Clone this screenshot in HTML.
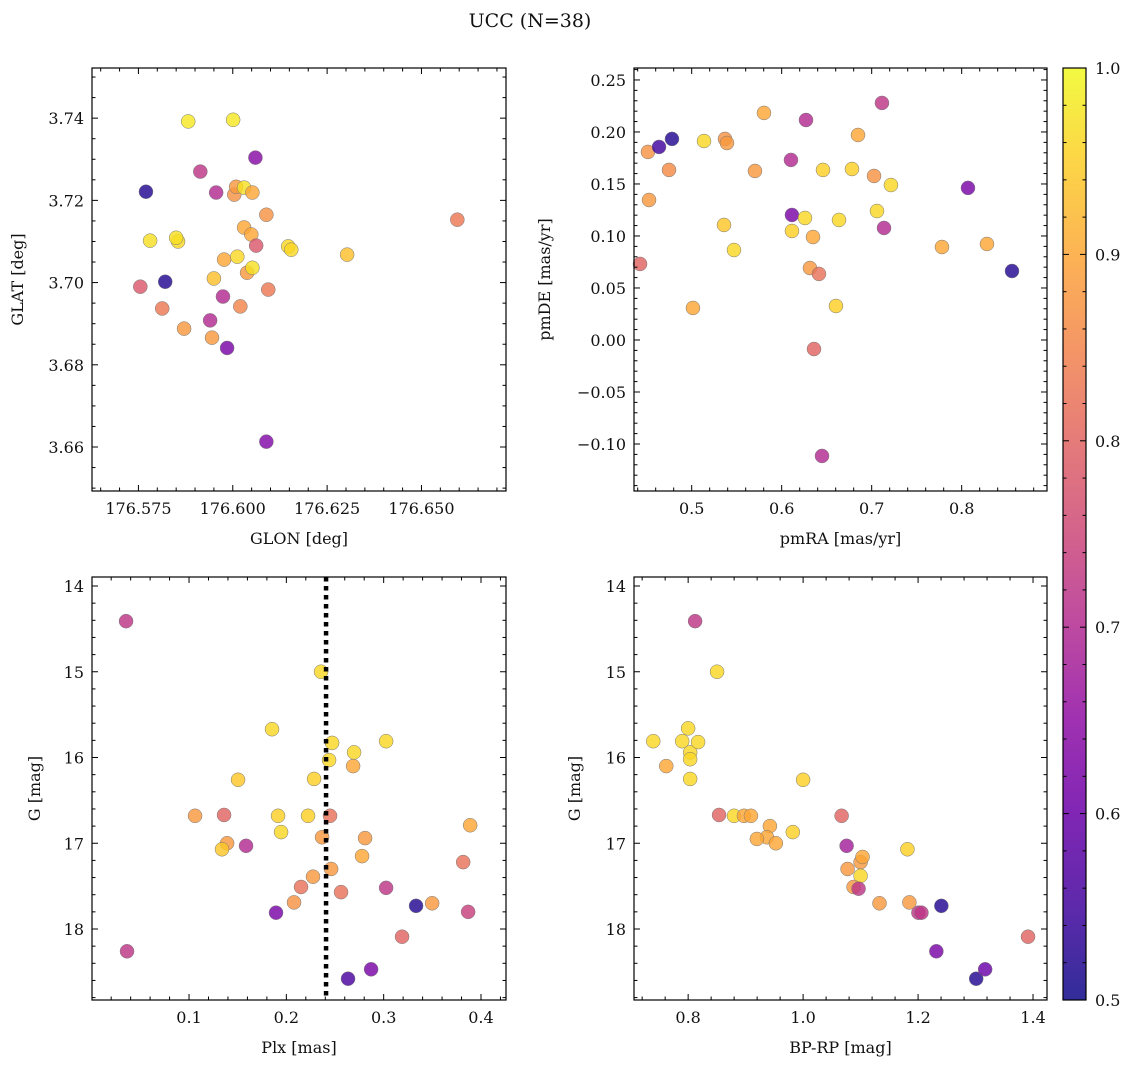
<!DOCTYPE html>
<html><head><meta charset="utf-8"><style>
body{margin:0;background:#fff}
svg text{font-family:"DejaVu Serif","Liberation Serif",serif;fill:#111}
</style></head><body>
<svg id="fig" width="1136" height="1068" xmlns="http://www.w3.org/2000/svg">
<defs><linearGradient id="cbg" x1="0" y1="1" x2="0" y2="0"></linearGradient></defs>
<text x="530" y="27" font-size="19" text-anchor="middle">UCC (N=38)</text>
</svg>
<script>
// Panel 1: GLON vs GLAT
const glon=[176.5770,176.5821,176.5755,176.5813,176.5855,176.5850,176.5781,176.5882,176.5914,176.5956,176.5871,176.5940,176.5945,176.5950,176.5977,176.5985,176.5974,176.6001,176.6004,176.6009,176.6012,176.6020,176.6030,176.6030,176.6038,176.6052,176.6049,176.6052,176.6060,176.6062,176.6089,176.6094,176.6147,176.6155,176.6089,176.6303,176.6595];
const glat=[3.7221,3.7002,3.699,3.6937,3.71,3.7109,3.7102,3.7392,3.727,3.7219,3.6888,3.6908,3.6866,3.701,3.7056,3.6841,3.6966,3.7396,3.7214,3.7233,3.7063,3.6942,3.7231,3.7134,3.7024,3.7219,3.7117,3.7036,3.7304,3.709,3.7165,3.6983,3.7088,3.708,3.6613,3.7068,3.7153];
const prob1=[0.52,0.52,0.78,0.83,0.96,0.97,0.97,0.98,0.72,0.7,0.88,0.7,0.88,0.93,0.9,0.62,0.7,0.98,0.87,0.88,0.96,0.85,0.97,0.9,0.88,0.9,0.9,0.97,0.64,0.78,0.87,0.83,0.96,0.96,0.63,0.93,0.83];
// Panel 2: pmRA vs pmDE
const pmra=[0.4426,0.4514,0.4526,0.4637,0.4781,0.4748,0.5014,0.5137,0.5370,0.5392,0.5359,0.5470,0.5703,0.5803,0.6103,0.6114,0.6114,0.6270,0.6259,0.6348,0.6314,0.6414,0.6359,0.6448,0.6459,0.6603,0.6637,0.6781,0.6848,0.7026,0.7059,0.7114,0.7137,0.7214,0.7781,0.8070,0.8281,0.8559];
const pmde=[0.0731,0.1808,0.1346,0.1856,0.1933,0.1635,0.0308,0.1913,0.1933,0.1894,0.1106,0.0865,0.1625,0.2183,0.1731,0.1202,0.1048,0.2115,0.1173,0.099,0.0692,0.0635,-0.0087,-0.1115,0.1635,0.0327,0.1154,0.1644,0.1971,0.1577,0.124,0.2279,0.1077,0.149,0.0894,0.1462,0.0923,0.0663];
const prob2=[0.8,0.87,0.88,0.55,0.52,0.86,0.9,0.96,0.87,0.88,0.94,0.96,0.88,0.9,0.7,0.62,0.95,0.7,0.96,0.9,0.88,0.82,0.8,0.7,0.95,0.95,0.96,0.95,0.9,0.87,0.96,0.72,0.7,0.96,0.9,0.62,0.9,0.52];
// Panel 3: Plx vs G
const plx=[0.0353,0.0363,0.1062,0.1360,0.1391,0.1339,0.1504,0.1586,0.1853,0.1915,0.1946,0.1894,0.2079,0.2151,0.2223,0.2274,0.2285,0.2357,0.2367,0.2439,0.2449,0.2460,0.2470,0.2562,0.2634,0.2686,0.2696,0.2778,0.2809,0.2871,0.3025,0.3025,0.3189,0.3333,0.3498,0.3817,0.3868,0.3889];
const gmag3=[14.41,18.26,16.68,16.67,17.0,17.07,16.26,17.03,15.67,16.68,16.87,17.81,17.69,17.51,16.68,17.39,16.25,15.0,16.93,16.03,16.68,17.3,15.83,17.57,18.58,16.1,15.94,17.15,16.94,18.47,15.81,17.52,18.09,17.73,17.7,17.22,17.8,16.79];
const prob3=[0.72,0.72,0.88,0.8,0.88,0.94,0.94,0.7,0.96,0.95,0.96,0.62,0.87,0.82,0.95,0.88,0.95,0.96,0.88,0.96,0.82,0.88,0.96,0.82,0.56,0.9,0.96,0.9,0.88,0.62,0.96,0.72,0.8,0.52,0.88,0.82,0.74,0.9];
const plxMedian=[0.2408];
// Panel 4: BP-RP vs G
const bprp=[0.8121,0.8503,0.7896,0.8,0.8035,0.8035,0.8173,0.7619,0.8035,0.7393,0.8538,0.8798,0.8971,0.9092,0.9422,0.937,0.9196,0.9526,0.9821,1.0,1.067,1.0757,1.0774,1.1,1.1,1.1034,1.0878,1.0965,1.1329,1.1815,1.1849,1.2006,1.2058,1.2405,1.2318,1.3011,1.3167,1.3913];
const gmag4=[14.41,15.0,15.81,15.66,15.94,16.02,15.82,16.1,16.25,15.81,16.67,16.68,16.68,16.68,16.8,16.93,16.95,17.0,16.87,16.26,16.68,17.03,17.3,17.22,17.38,17.16,17.51,17.53,17.7,17.07,17.69,17.81,17.81,17.73,18.26,18.58,18.47,18.09];
const prob4=[0.72,0.96,0.96,0.96,0.96,0.96,0.96,0.9,0.96,0.96,0.8,0.96,0.9,0.9,0.9,0.9,0.9,0.9,0.95,0.95,0.8,0.68,0.88,0.88,0.96,0.9,0.88,0.72,0.88,0.95,0.88,0.72,0.72,0.52,0.62,0.52,0.6,0.8];
const cbTicks=[0.5,0.6,0.7,0.8,0.9,1.0];

const NS="http://www.w3.org/2000/svg";
const svg=document.getElementById('fig');
function mk(tag,attrs,parent){const e=document.createElementNS(NS,tag);for(const k in attrs)e.setAttribute(k,attrs[k]);(parent||svg).appendChild(e);return e;}
const stops=['#0d0887','#41049d','#6a00a8','#8f0da4','#b12a90','#cc4778','#e16462','#f2844b','#fca636','#fcce25','#f0f921'];
function hex(h){return [1,3,5].map(i=>parseInt(h.substr(i,2),16));}
function plasma(v){let t=Math.max(0,Math.min(1,(v-0.5)/0.5))*10;const i=Math.min(9,Math.floor(t)),f=t-i;const a=hex(stops[i]),b=hex(stops[i+1]);return 'rgb('+a.map((c,k)=>Math.round(c+(b[k]-c)*f)).join(',')+')';}
const g=document.getElementById('cbg');
stops.forEach((s,i)=>mk('stop',{offset:(i*10)+'%','stop-color':s},g));

function fmt(v,d){let s=v.toFixed(d);if(v<-1e-9)s='\u2212'+s.slice(1);return s;}
function panel(o){
  const {x0,x1,y0,y1,xmin,xmax,ymin,ymax,inv}=o;
  const sx=v=>x0+(v-xmin)/(xmax-xmin)*(x1-x0);
  const sy=v=>inv? y0+(v-ymin)/(ymax-ymin)*(y1-y0) : y1-(v-ymin)/(ymax-ymin)*(y1-y0);
  const grp=mk('g',{});
  
  
  o.xs.forEach((xv,i)=>{
    const c=mk('circle',{cx:sx(xv),cy:sy(o.ys[i]),r:7,fill:plasma(o.cs[i]),'fill-opacity':0.82,stroke:'#777','stroke-width':0.5},grp);
    
    
  });
  if(o.vline!==undefined){
    const l=mk('line',{x1:sx(o.vline),x2:sx(o.vline),y1:y0,y2:y1,stroke:'#000','stroke-width':4.5,'stroke-dasharray':'4.5,4.5'},grp);
    
    
  }
  const eps=1e-9;
  for(let k=Math.ceil(xmin/o.xmin_-eps);k*o.xmin_<=xmax+eps;k++){const v=k*o.xmin_;const px=sx(v);
    if(px<x0+1||px>x1-1)continue;
    const major=Math.abs(v/o.xmaj-Math.round(v/o.xmaj))<1e-6;const L=major?6:3.5;
    mk('line',{x1:px,x2:px,y1:y1,y2:y1-L,stroke:'#000','stroke-width':1},grp);
    mk('line',{x1:px,x2:px,y1:y0,y2:y0+L,stroke:'#000','stroke-width':1},grp);
    if(major){const t=mk('text',{x:px,y:y1+23,'font-size':16,'text-anchor':'middle'},grp);t.textContent=fmt(v,o.xd);
      }
  }
  for(let k=Math.ceil(ymin/o.ymin_-eps);k*o.ymin_<=ymax+eps;k++){const v=k*o.ymin_;const py=sy(v);
    if(py<y0+1||py>y1-1)continue;
    const major=Math.abs(v/o.ymaj-Math.round(v/o.ymaj))<1e-6;const L=major?6:3.5;
    mk('line',{x1:x0,x2:x0+L,y1:py,y2:py,stroke:'#000','stroke-width':1},grp);
    mk('line',{x1:x1,x2:x1-L,y1:py,y2:py,stroke:'#000','stroke-width':1},grp);
    if(major){const t=mk('text',{x:x0-8,y:py+6,'font-size':16,'text-anchor':'end'},grp);t.textContent=fmt(v,o.yd);
      }
  }
  mk('rect',{x:x0,y:y0,width:x1-x0,height:y1-y0,fill:'none',stroke:'#000','stroke-width':1.2},grp);
  const xl=mk('text',{x:(x0+x1)/2,y:y1+53,'font-size':16,'text-anchor':'middle'},grp);xl.textContent=o.xlab;
  
  const ylx=o.ylx,yc=(y0+y1)/2;
  const yl=mk('text',{x:ylx,y:yc,'font-size':16,'text-anchor':'middle',transform:`rotate(-90 ${ylx} ${yc})`},grp);yl.textContent=o.ylab;
  
}
panel({name:'glon-glat-panel',x0:92,x1:506,y0:68,y1:491,xmin:176.5627,xmax:176.6724,ymin:3.6493,ymax:3.7522,xs:glon,ys:glat,cs:prob1,xmaj:0.025,xmin_:0.005,ymaj:0.02,ymin_:0.005,xd:3,yd:2,xlab:'GLON [deg]',ylab:'GLAT [deg]',ylx:23});
panel({name:'pm-panel',x0:634,x1:1047,y0:68,y1:491,xmin:0.4359,xmax:0.8948,ymin:-0.1452,ymax:0.2615,xs:pmra,ys:pmde,cs:prob2,xmaj:0.1,xmin_:0.02,ymaj:0.05,ymin_:0.01,xd:1,yd:2,xlab:'pmRA [mas/yr]',ylab:'pmDE [mas/yr]',ylx:550});
panel({name:'plx-g-panel',x0:92,x1:506,y0:577,y1:1000,xmin:0.0003,xmax:0.4257,ymin:13.895,ymax:18.828,inv:true,xs:plx,ys:gmag3,cs:prob3,xmaj:0.1,xmin_:0.02,ymaj:1,ymin_:0.2,xd:1,yd:0,xlab:'Plx [mas]',ylab:'G [mag]',ylx:40,vline:plxMedian[0]});
panel({name:'cmd-panel',x0:634,x1:1047,y0:577,y1:1000,xmin:0.7058,xmax:1.4243,ymin:13.895,ymax:18.828,inv:true,xs:bprp,ys:gmag4,cs:prob4,xmaj:0.2,xmin_:0.04,ymaj:1,ymin_:0.2,xd:1,yd:0,xlab:'BP-RP [mag]',ylab:'G [mag]',ylx:580});
const cb=mk('g',{});


mk('rect',{x:1063,y:68,width:23,height:932,fill:'url(#cbg)','fill-opacity':0.85},cb);
const cy=v=>1000-(v-0.5)/0.5*932;
for(let k=25;k<=50;k++){const v=k/50;const major=k%5==0;const L=major?6:3.5;
  mk('line',{x1:1086,x2:1086-L,y1:cy(v),y2:cy(v),stroke:'#000','stroke-width':1},cb);
  mk('line',{x1:1063,x2:1063+L,y1:cy(v),y2:cy(v),stroke:'#000','stroke-width':1},cb);}
cbTicks.forEach(v=>{const t=mk('text',{x:1095,y:cy(v)+6,'font-size':16},cb);t.textContent=v.toFixed(1);
  });
mk('rect',{x:1063,y:68,width:23,height:932,fill:'none',stroke:'#000','stroke-width':1.2},cb);
</script>
</body></html>
